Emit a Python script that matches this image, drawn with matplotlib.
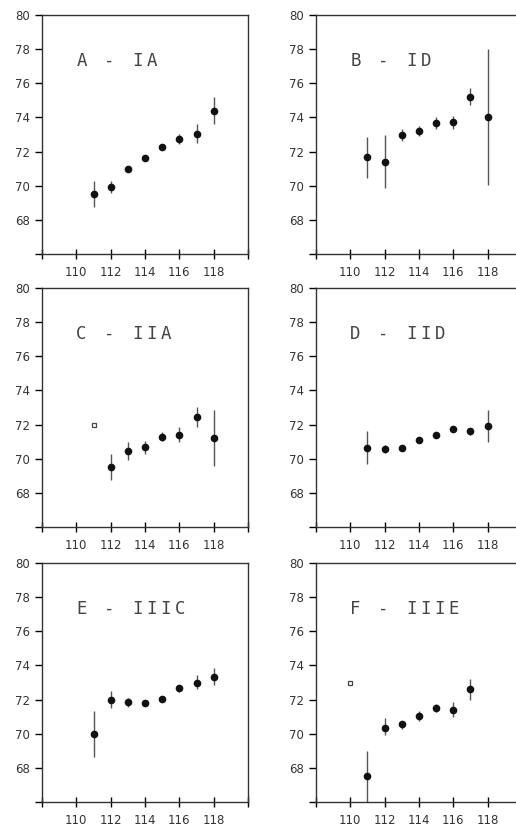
import matplotlib.pyplot as plt

# x = year-ish index, y = mean, lo/hi = error bar ends
titles = ['A - IA', 'B - ID', 'C - IIA', 'D - IID', 'E - IIIC', 'F - IIIE']

x_a = [111, 112, 113, 114, 115, 116, 117, 118]
y_a = [69.5, 69.9, 71.0, 71.6, 72.25, 72.75, 73.05, 74.4]
lo_a = [68.75, 69.6, 71.0, 71.6, 72.25, 72.45, 72.5, 73.6]
hi_a = [70.25, 70.25, 71.0, 71.6, 72.25, 73.05, 73.6, 75.2]

x_b = [111, 112, 113, 114, 115, 116, 117, 118]
y_b = [71.7, 71.4, 72.95, 73.2, 73.65, 73.75, 75.2, 74.05]
lo_b = [70.45, 69.85, 72.6, 72.9, 73.3, 73.35, 74.7, 70.05]
hi_b = [72.85, 73.0, 73.3, 73.5, 74.0, 74.1, 75.7, 78.0]

x_c = [112, 113, 114, 115, 116, 117, 118]
y_c = [69.5, 70.45, 70.7, 71.3, 71.4, 72.45, 71.2]
lo_c = [68.75, 69.95, 70.3, 71.05, 70.95, 71.85, 69.6]
hi_c = [70.25, 70.95, 71.05, 71.55, 71.85, 73.05, 72.85]

x_d = [111, 112, 113, 114, 115, 116, 117, 118]
y_d = [70.65, 70.55, 70.6, 71.1, 71.4, 71.75, 71.6, 71.9]
lo_d = [69.7, 70.35, 70.6, 71.1, 71.4, 71.75, 71.4, 70.95]
hi_d = [71.65, 70.8, 70.6, 71.1, 71.4, 71.75, 71.8, 72.85]

x_e = [111, 112, 113, 114, 115, 116, 117, 118]
y_e = [70.0, 72.0, 71.85, 71.8, 72.05, 72.65, 73.0, 73.35]
lo_e = [68.65, 71.5, 71.55, 71.8, 72.05, 72.45, 72.6, 72.85]
hi_e = [71.35, 72.5, 72.1, 71.8, 72.05, 72.85, 73.45, 73.85]

x_f = [111, 112, 113, 114, 115, 116, 117]
y_f = [67.5, 70.35, 70.55, 71.05, 71.5, 71.4, 72.6]
lo_f = [66.0, 69.9, 70.3, 70.75, 71.25, 70.95, 71.95]
hi_f = [69.0, 70.9, 70.75, 71.35, 71.75, 71.85, 73.2]

# open squares (separate single points)
open_pts = {2: (111, 72.0), 5: (110, 73.0)}

series = [(x_a, y_a, lo_a, hi_a), (x_b, y_b, lo_b, hi_b), (x_c, y_c, lo_c, hi_c),
          (x_d, y_d, lo_d, hi_d), (x_e, y_e, lo_e, hi_e), (x_f, y_f, lo_f, hi_f)]

W, H = 516, 826
fig = plt.figure(figsize=(W / 100, H / 100), dpi=100)

lefts = [42, 316]
tops = [15, 288, 563]
aw, ah = 206, 239

for i, (xs, ys, lo, hi) in enumerate(series):
    r, c = divmod(i, 2)
    ax = fig.add_axes([lefts[c] / W, 1 - (tops[r] + ah) / H, aw / W, ah / H])
    ax.vlines(xs, lo, hi, color='#555555', lw=1.0)
    ax.plot(xs, ys, 'o', color='#111111', ms=4.5, mec='#111111')
    if i in open_pts:
        px, py = open_pts[i]
        ax.plot(px, py, 's', ms=3.2, mfc='white', mec='#444444', mew=0.9)
    ax.set_xlim(108, 120)
    ax.set_ylim(66, 80)
    ax.set_xticks(range(108, 121, 2))
    ax.set_xticklabels(['' if v in (108, 120) else str(v) for v in range(108, 121, 2)])
    ax.set_yticks(range(66, 81, 2))
    ax.set_yticklabels(['' if v == 66 else str(v) for v in range(66, 81, 2)])
    ax.tick_params(axis='x', direction='inout', length=7, width=1, labelsize=8.5,
                   labelcolor='#333333', pad=5)
    ax.tick_params(axis='y', direction='out', length=5, width=1, labelsize=8.5,
                   labelcolor='#333333', pad=4)
    for s in ax.spines.values():
        s.set_color('#333333')
        s.set_linewidth(1.0)
    # plotter-style title, one character per fixed step
    for k, ch in enumerate(titles[i]):
        ax.annotate(ch, xy=(110, 77.3), xytext=(k * 10.1, 0), textcoords='offset points',
                    ha='left', va='center', fontsize=12.5, color='#444444',
                    family='DejaVu Sans Mono')

fig.savefig('out.png', dpi=100)
